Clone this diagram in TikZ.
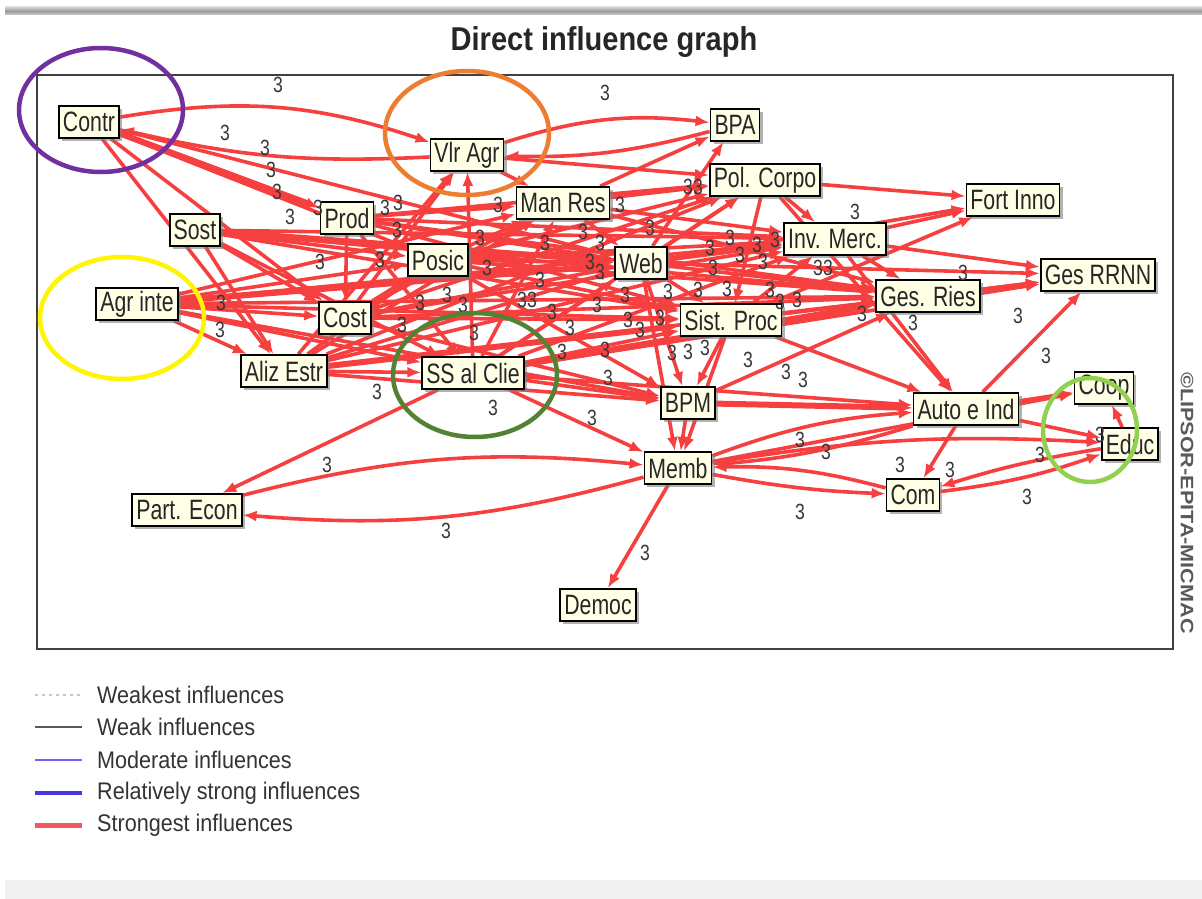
\documentclass[tikz,border=0pt]{standalone}
\usepackage{fontspec}
\setmainfont{Liberation Sans}
\newfontfamily\boxfont[FakeStretch=0.76]{Liberation Sans}
\newfontfamily\titlefont[FakeStretch=0.88]{Liberation Sans}
\newfontfamily\numfont[FakeStretch=0.8]{Liberation Sans}
\newfontfamily\legfont[FakeStretch=0.9]{Liberation Sans}
\newfontfamily\wmfont[FakeStretch=1.2]{Liberation Sans}
\usetikzlibrary{arrows.meta,shadows,backgrounds}
\pgfdeclarelayer{edges}
\pgfsetlayers{background,edges,main}

\definecolor{infred}{RGB}{246,64,64}
\definecolor{boxfill}{RGB}{255,255,230}
\definecolor{ringpurple}{RGB}{112,48,160}
\definecolor{ringorange}{RGB}{237,125,49}
\definecolor{ringyellow}{RGB}{255,245,0}
\definecolor{ringdkgreen}{RGB}{84,130,53}
\definecolor{ringltgreen}{RGB}{146,208,80}
\definecolor{legmod}{RGB}{110,100,250}
\definecolor{legstrong}{RGB}{70,55,225}
\definecolor{legred}{RGB}{240,88,98}

\tikzset{
  var/.style={draw=black, line width=1.8pt, fill=boxfill,
    font=\boxfont\fontsize{28}{30}\selectfont, text=black!85,
    inner xsep=4pt, inner ysep=0pt, minimum height=32pt,
    drop shadow={shadow xshift=3pt, shadow yshift=-3pt, fill=black!50, opacity=0.6}},
  infl/.style={draw=infred, line width=3.6pt, -{Latex[length=14pt,width=11pt]}},
  heavy/.style={infl, line width=6pt},
  wlabel/.style={font=\numfont\fontsize{22}{22}\selectfont, text=black!78, inner sep=0pt},
  ring/.style={line width=4.5pt},
  legtext/.style={anchor=west, font=\legfont\fontsize{24}{24}\selectfont, text=black!80, inner sep=0pt},
}

\begin{document}
\begin{tikzpicture}[x=1pt,y=-1pt]
\useasboundingbox (0,0) rectangle (1202,899);
\begin{pgfonlayer}{background}
  \fill[white] (0,0) rectangle (1202,899);
  % top rule and bottom band of the window
  \shade[top color=gray!35, bottom color=gray!35, middle color=gray!80] (5,7) rectangle (1202,15);
  \fill[gray!12] (5,880) rectangle (1202,899);
  % plot frame
  \draw[line width=2pt, black!75] (37,75) rectangle (1173,649);
\end{pgfonlayer}

\node[font=\titlefont\bfseries\fontsize{33}{36}\selectfont, text=black!85] (title) at (604,42) {Direct influence graph};
\node[rotate=-90, font=\wmfont\bfseries\fontsize{18}{20}\selectfont, text=black!65] (mark) at (1187,503) {©LIPSOR-EPITA-MICMAC};

% variables
\node[var] (Contr)    at (89,122)   {Contr};
\node[var] (VlrAgr)   at (467,155)  {Vlr Agr};
\node[var] (BPA)      at (735,125)  {BPA};
\node[var] (PolCorpo) at (765,180)  {Pol. Corpo};
\node[var] (ManRes)   at (563,203)  {Man Res};
\node[var] (Prod)     at (347,218)  {Prod};
\node[var] (Sost)     at (195,230)  {Sost};
\node[var] (Posic)    at (438,260)  {Posic};
\node[var] (Web)      at (641,263)  {Web};
\node[var] (InvMerc)  at (835,239)  {Inv. Merc.};
\node[var] (FortInno) at (1013,200) {Fort Inno};
\node[var] (GesRRNN)  at (1098,275) {Ges RRNN};
\node[var] (GesRies)  at (928,296)  {Ges. Ries};
\node[var] (SistProc) at (731,320)  {Sist. Proc};
\node[var] (AgrInte)  at (137,304)  {Agr inte};
\node[var] (Cost)     at (345,318)  {Cost};
\node[var] (AlizEstr) at (284,371)  {Aliz Estr};
\node[var] (SSClie)   at (473,373)  {SS al Clie};
\node[var] (BPM)      at (688,403)  {BPM};
\node[var] (Memb)     at (678,468)  {Memb};
\node[var] (AutoInd)  at (966,409)  {Auto e Ind};
\node[var] (Coop)     at (1104,388) {Coop};
\node[var] (Educ)     at (1130,444) {Educ};
\node[var] (Com)      at (913,495)  {Com};
\node[var] (PartEcon) at (187,510)  {Part. Econ};
\node[var] (Democ)    at (598,605)  {Democ};

% influences
\begin{pgfonlayer}{edges}
  \draw[heavy] (Contr) -- (Prod);
  \draw[heavy] (Sost) -- (Web);
  \draw[heavy] (AgrInte) -- (Web);
  \draw[heavy] (AlizEstr) -- (SistProc);
  \draw[heavy] (SSClie) -- (GesRies);
  \draw[heavy] (BPM) -- (AutoInd);
  \foreach \a/\b in {
    Contr/Posic, Contr/Cost, Contr/AlizEstr, Contr/Web,
    Sost/Posic, Sost/SSClie, Sost/AlizEstr, Sost/InvMerc, Sost/Cost, Sost/SistProc, Sost/GesRies,
    AgrInte/Posic, AgrInte/Cost, AgrInte/AlizEstr, AgrInte/SSClie, AgrInte/InvMerc,
    AgrInte/SistProc, AgrInte/ManRes, AgrInte/GesRies, AgrInte/BPM,
    Prod/ManRes, Prod/Web, Prod/PolCorpo, Prod/SistProc, Prod/Cost, Prod/SSClie, Prod/InvMerc, Prod/GesRies,
    Posic/Web, Posic/PolCorpo, Posic/InvMerc, Posic/GesRies, Posic/SistProc, Posic/BPM, Posic/ManRes,
    Cost/VlrAgr, Cost/Web, Cost/Posic, Cost/SistProc, Cost/GesRies, Cost/ManRes, Cost/BPM,
    Cost/InvMerc, Cost/PolCorpo,
    AlizEstr/VlrAgr, AlizEstr/Web, AlizEstr/Posic, AlizEstr/PolCorpo, AlizEstr/InvMerc,
    AlizEstr/ManRes, AlizEstr/BPM, AlizEstr/GesRies, AlizEstr/SSClie,
    SSClie/VlrAgr, SSClie/Web, SSClie/ManRes, SSClie/PolCorpo, SSClie/SistProc, SSClie/GesRRNN,
    SSClie/AutoInd, SSClie/Memb, SSClie/PartEcon, SSClie/BPM, SSClie/InvMerc,
    ManRes/BPA, ManRes/PolCorpo, ManRes/Web, ManRes/InvMerc, ManRes/GesRies,
    VlrAgr/PolCorpo, VlrAgr/ManRes,
    Web/PolCorpo, Web/InvMerc, Web/GesRies, Web/SistProc, Web/BPM, Web/FortInno,
    Web/BPA, Web/Memb, Web/GesRRNN,
    PolCorpo/FortInno, PolCorpo/InvMerc, PolCorpo/SistProc, PolCorpo/AutoInd,
    InvMerc/FortInno, InvMerc/GesRRNN, InvMerc/GesRies, InvMerc/AutoInd,
    SistProc/GesRRNN, SistProc/GesRies, SistProc/InvMerc, SistProc/BPM,
    SistProc/AutoInd, SistProc/FortInno, SistProc/Memb,
    GesRies/GesRRNN,
    AutoInd/GesRRNN, AutoInd/Coop, AutoInd/Educ, AutoInd/Com,
    BPM/Memb, BPM/GesRies,
    Memb/Democ, Memb/Coop, Educ/Coop}
    \draw[infl] (\a) -- (\b);
  \draw[infl] (Contr) to[bend left=14] (VlrAgr);
  \draw[infl] (VlrAgr) to[bend left=8] (Contr);
  \draw[infl] (VlrAgr) to[bend left=12] (BPA);
  \draw[infl] (BPA) to[bend left=8] (VlrAgr);
  \draw[infl] (PartEcon) to[bend left=10] (Memb);
  \draw[infl] (Memb) to[bend left=10] (PartEcon);
  \draw[infl] (Memb) to[bend left=8] (AutoInd);
  \draw[infl] (AutoInd) to[bend left=6] (Memb);
  \draw[infl] (Memb) to[bend right=4] (Com);
  \draw[infl] (Com) to[bend right=8] (Memb);
  \draw[infl] (Memb) to[bend left=6] (Educ);
  \draw[infl] (Com) to[bend right=6] (Educ);
  \draw[infl] (Educ) to[bend right=4] (Com);
\end{pgfonlayer}

% influence values
\foreach \p [count=\i] in {
  (278,85),(605,93),(225,133),(265,148),(271,170),(277,192),(290,217),(318,208),
  (385,208),(398,203),(498,205),(397,230),(380,260),(480,238),(545,243),(600,243),
  (590,262),(540,280),(487,268),(463,305),(447,295),(420,303),(402,325),(474,333),
  (221,303),(220,330),(377,392),(493,408),(592,418),(327,465),(446,531),
  (570,328),(562,352),(597,305),(605,350),(608,378),(640,330),(660,318),
  (672,353),(688,352),(705,348),(710,248),(713,268),(730,238),(740,255),(757,245),
  (763,262),(775,240),(770,290),(780,302),(797,300),(855,212),(862,314),
  (913,323),(963,273),(1018,316),(1046,356),(786,372),(803,380),(800,440),(800,512),
  (826,452),(900,465),(950,470),(1027,497),(1100,435),(1040,455),(645,553),
  (620,205),(583,232),(600,272),(650,228),(625,295),(628,320),(698,290),(727,289),
  (748,360),(320,262),(552,312),(668,292)}
  \node[wlabel] (w\i) at \p {3};
\foreach \p [count=\i] in {(693,187),(527,300),(823,268)}
  \node[wlabel] (ww\i) at \p {33};

% highlight rings
\draw[ring, ringpurple]  (101,110) ellipse [x radius=82, y radius=62];
\draw[ring, ringorange]  (467,133) ellipse [x radius=82, y radius=62];
\draw[ring, ringyellow]  (122,318) ellipse [x radius=82, y radius=61];
\draw[ring, ringdkgreen] (475,375) ellipse [x radius=82, y radius=62];
\draw[ring, ringltgreen] (1090,430) ellipse [x radius=47, y radius=52];

% legend
\coordinate (l1a) at (35,695); \coordinate (l1b) at (82,695);
\coordinate (l2a) at (35,727); \coordinate (l2b) at (82,727);
\coordinate (l3a) at (35,760); \coordinate (l3b) at (82,760);
\coordinate (l4a) at (35,793); \coordinate (l4b) at (82,793);
\coordinate (l5a) at (35,825); \coordinate (l5b) at (82,825);
\draw[gray!45, line width=1.6pt, dash pattern=on 3pt off 4pt] (l1a) -- (l1b);
\draw[black!65, line width=2pt] (l2a) -- (l2b);
\draw[legmod, line width=2pt] (l3a) -- (l3b);
\draw[legstrong, line width=4pt] (l4a) -- (l4b);
\draw[legred, line width=5pt] (l5a) -- (l5b);
\node[legtext] (t1) at (97,695) {Weakest influences};
\node[legtext] (t2) at (97,727) {Weak influences};
\node[legtext] (t3) at (97,760) {Moderate influences};
\node[legtext] (t4) at (97,793) {Relatively strong influences};
\node[legtext] (t5) at (97,825) {Strongest influences};
\end{tikzpicture}
\end{document}
